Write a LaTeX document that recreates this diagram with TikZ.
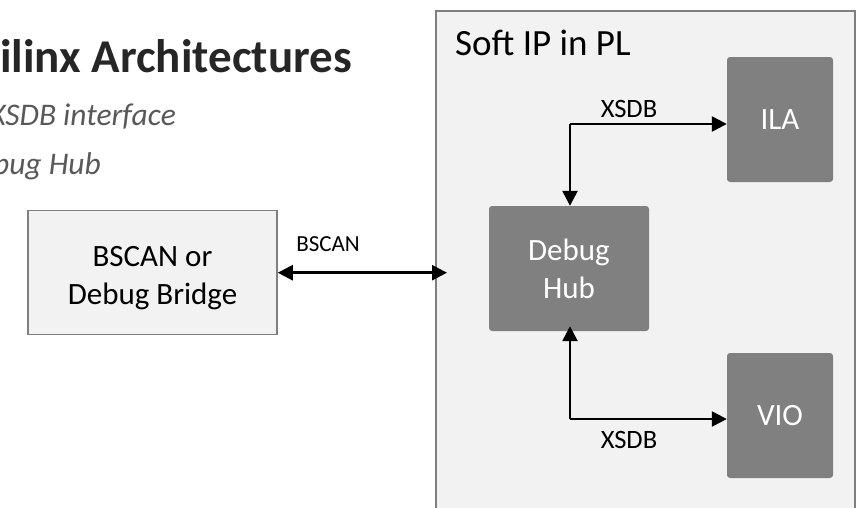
\documentclass[tikz,border=0pt]{standalone}
\usepackage{fontspec}
\setmainfont{Carlito}
\usetikzlibrary{arrows.meta}
\definecolor{boxfill}{HTML}{F2F2F2}
\definecolor{boxline}{HTML}{7F7F7F}
\definecolor{darkbox}{HTML}{808080}
\definecolor{titlecol}{HTML}{262626}
\definecolor{subcol}{HTML}{595959}
\tikzset{
  lightbox/.style={draw=boxline, line width=1.5pt, fill=boxfill, inner sep=0pt, align=center},
  ipbox/.style={fill=darkbox, rounded corners=3pt, inner sep=0pt, text=white, align=center, font=\fontsize{31}{38}\selectfont},
  conn/.style={line width=2.5pt, -{Triangle[length=15pt,width=15pt]}},
  biconn/.style={line width=2.5pt, {Triangle[length=15pt,width=15pt]}-{Triangle[length=15pt,width=15pt]}},
  lbl/.style={inner sep=0pt, font=\fontsize{26.5}{30}\selectfont}
}
\begin{document}
\begin{tikzpicture}[x=1pt,y=-1pt]
\useasboundingbox (0,0) rectangle (856,507);
\fill[white] (0,0) rectangle (856,507);
% title texts (clipped at left as in the reference)
\node[anchor=base east, inner sep=0pt, text=titlecol, font=\fontsize{47}{50}\selectfont\bfseries] (title) at (352,72) {Xilinx Architectures};
\node[anchor=base east, inner sep=0pt, text=subcol, font=\fontsize{31.5}{34}\selectfont\itshape] (sub1) at (176,125) {XSDB interface};
\node[anchor=base east, inner sep=0pt, text=subcol, font=\fontsize{31.5}{34}\selectfont\itshape] (sub2) at (101,174) {Debug Hub};
% PL container
\node[lightbox, anchor=north west, minimum width=419pt, minimum height=520pt] (pl) at (435,10) {};
\node[anchor=base west, inner sep=0pt, font=\fontsize{37}{40}\selectfont] (pltitle) at (455,55) {Soft IP in PL};
% BSCAN box
\node[lightbox, minimum width=249pt, minimum height=124pt, font=\fontsize{31}{38}\selectfont] (bscan) at (152.5,272.5) {\rule{0pt}{31pt}BSCAN or\\Debug Bridge};
% dark boxes
\node[ipbox, minimum width=160pt, minimum height=125pt] (hub) at (569,268.5) {Debug\\Hub};
\node[ipbox, minimum width=106pt, minimum height=125pt] (ila) at (780,119.5) {ILA};
\node[ipbox, minimum width=106pt, minimum height=125pt] (vio) at (780,415.5) {VIO};
% connectors
\coordinate (bend) at (447,272.7);
\draw[biconn] (bscan.east |- bend) -- (bend);
\node[lbl, font=\fontsize{23}{26}\selectfont, anchor=base] (bscanlbl) at (328,251) {BSCAN};
\coordinate (tj) at (570,124);
\draw[conn] (tj) -- (ila.west |- tj);
\draw[conn] (tj) -- (hub.north -| tj);
\node[lbl, anchor=base] (xsdb1) at (629,117) {XSDB};
\coordinate (bj) at (570,419);
\draw[conn] (bj) -- (vio.west |- bj);
\draw[conn] (bj) -- ([yshift=5pt]hub.south -| bj);
\node[lbl, anchor=base] (xsdb2) at (629,448) {XSDB};
\end{tikzpicture}
\end{document}
